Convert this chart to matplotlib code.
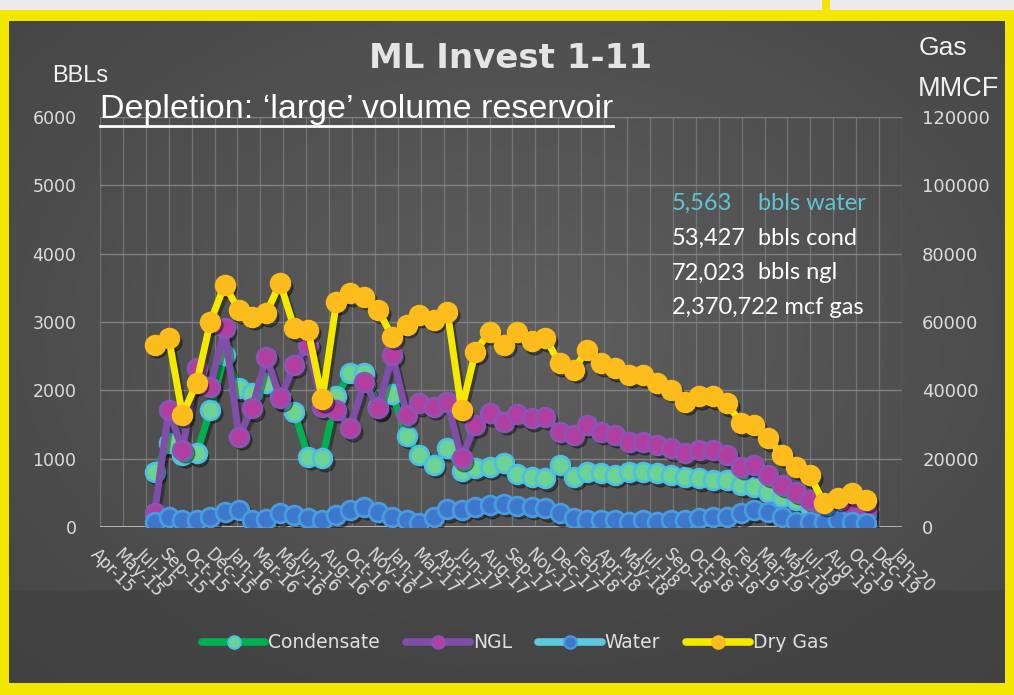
import matplotlib
matplotlib.use("Agg")
import matplotlib.pyplot as plt
import numpy as np
import pandas as pd
from matplotlib.lines import Line2D
from matplotlib.patches import Rectangle
from matplotlib.transforms import ScaledTranslation

# ---------------- data ----------------
months = pd.period_range("2015-07", "2019-10", freq="M").to_timestamp(how="end")

condensate = [810, 1225, 1060, 1079, 1713, 2518, 2031, 1957, 2104, 1900,
              1688, 1030, 1006, 1920, 2260, 2260, 1750, 1945, 1335, 1054,
              908, 1152, 820, 870, 883, 932, 775, 737, 713, 908,
              737, 810, 786, 761, 810, 810, 786, 761, 737, 713,
              688, 688, 615, 590, 517, 444, 400, 300, 200, 180,
              200, 180]
ngl = [200, 1713, 1127, 2324, 2054, 2909, 1322, 1738, 2493, 1884,
       2372, 2665, 1761, 1713, 1445, 2127, 1738, 2518, 1640, 1811,
       1761, 1835, 1006, 1493, 1665, 1542, 1650, 1591, 1615, 1396,
       1347, 1493, 1396, 1347, 1249, 1249, 1200, 1152, 1079, 1120,
       1130, 1054, 883, 908, 761, 615, 517, 395, 274, 249,
       274, 249]
water = [80, 150, 100, 100, 150, 220, 250, 100, 120, 200,
         180, 130, 100, 180, 250, 300, 220, 150, 100, 60,
         150, 260, 250, 297, 320, 340, 310, 300, 274, 200,
         127, 100, 100, 100, 78, 100, 78, 100, 100, 127,
         150, 150, 200, 249, 224, 150, 78, 78, 78, 100,
         78, 54]
dry_gas = [53300, 55300, 32800, 42200, 60100, 70900, 63500, 61600, 62600, 71400,
           58200, 57700, 37400, 66000, 68400, 67400, 63500, 55700, 59200, 62100,
           60600, 63000, 34300, 51300, 57200, 53300, 57200, 54300, 55300, 47900,
           46000, 51800, 47900, 46500, 44500, 44500, 42100, 40100, 36700, 38200,
           38200, 36200, 30400, 29900, 26000, 21100, 17700, 15200, 6900, 8400,
           9900, 7900]

tick_labels = ["Apr-15", "May-15", "Jul-15", "Sep-15", "Oct-15", "Dec-15", "Jan-16",
               "Mar-16", "May-16", "Jun-16", "Aug-16", "Oct-16", "Nov-16", "Jan-17",
               "Mar-17", "Apr-17", "Jun-17", "Aug-17", "Sep-17", "Nov-17", "Dec-17",
               "Feb-18", "Apr-18", "May-18", "Jul-18", "Sep-18", "Oct-18", "Dec-18",
               "Feb-19", "Mar-19", "May-19", "Jul-19", "Aug-19", "Oct-19", "Dec-19",
               "Jan-20"]
left_ticks = [0, 1000, 2000, 3000, 4000, 5000, 6000]
right_ticks = [0, 20000, 40000, 60000, 80000, 100000, 120000]

totals = [("5,563", "bbls water"), ("53,427", "bbls cond"), ("72,023", "bbls ngl"),
          ("2,370,722 mcf gas", "")]

# ---------------- figure ----------------
W, H = 1014, 695
fig = plt.figure(figsize=(W / 100, H / 100), dpi=100)
fig.patch.set_facecolor("#4a4a4a")

def fx(px):
    return px / W

def fy(py):
    return 1 - py / H

# background gradient
bg = fig.add_axes([0, 0, 1, 1], zorder=-10)
yy, xx = np.mgrid[0:H:1, 0:W:1]
d = np.sqrt(((xx - 520) / 700.0) ** 2 + ((yy - 330) / 500.0) ** 2)
shade = 0.37 - 0.10 * np.clip(d, 0, 1)
img = np.dstack([shade, shade, shade])
bg.imshow(img, extent=[0, W, H, 0], aspect="auto")
bg.add_patch(Rectangle((0, 590), W, 95, color="#3f3f3f", alpha=0.55, lw=0))
bg.add_patch(Rectangle((0, 0), W, 11, color="#ececec", lw=0))
bg.add_patch(Rectangle((0, 10), W, 11, color="#f3e600", lw=0))
bg.add_patch(Rectangle((0, 10), 9, H, color="#f3e600", lw=0))
bg.add_patch(Rectangle((1005, 10), 10, H, color="#f3e600", lw=0))
bg.add_patch(Rectangle((0, 683), W, 12, color="#f3e600", lw=0))
bg.add_patch(Rectangle((822, 0), 8, 11, color="#f3e600", lw=0))
bg.set_xlim(0, W)
bg.set_ylim(H, 0)
bg.axis("off")

# main axes
ax = fig.add_axes([fx(100), fy(527), fx(902) - fx(100), fy(117) - fy(527)])
ax.patch.set_visible(False)
ax2 = ax.twinx()
ax2.patch.set_visible(False)

start = pd.Timestamp("2015-04-04")
tick_pos = [start + pd.Timedelta(days=50 * i) for i in range(len(tick_labels))]
ax.set_xlim(start, start + pd.Timedelta(days=50 * (len(tick_labels) - 1)))
ax.set_ylim(0, 6000)
ax2.set_ylim(0, 120000)

for s in list(ax.spines.values()) + list(ax2.spines.values()):
    s.set_visible(False)

# grid
for v in left_ticks[1:]:
    ax.axhline(v, color="#8c8c8c", lw=1.0, alpha=0.8, zorder=0)
for t in tick_pos:
    ax.axvline(t, color="#8c8c8c", lw=0.9, alpha=0.6, zorder=0)
ax.axhline(0, color="#bdbdbd", lw=2.0, zorder=0.5)

ax.set_xticks(tick_pos)
ax.set_xticklabels(tick_labels, rotation=-45, ha="left", va="top",
                   rotation_mode="anchor")
ax.tick_params(axis="x", length=0, pad=13, labelsize=12, labelcolor="#dcdcdc")
ax.set_yticks(left_ticks)
ax.set_yticklabels([str(v) for v in left_ticks])
ax.tick_params(axis="y", length=0, pad=17, labelsize=12.5, labelcolor="#dcdcdc")
ax2.set_yticks(right_ticks)
ax2.set_yticklabels([str(v) for v in right_ticks])
ax2.tick_params(axis="y", length=0, pad=14.5, labelsize=13, labelcolor="#dcdcdc")

MS = 13.5
LW = 5

def shadow(a):
    return a.transData + ScaledTranslation(2 / 72, -2.5 / 72, fig.dpi_scale_trans)

series = [
    (ax, condensate, "#00b050", "#6dd392", "#4cc0e4", "Condensate"),
    (ax, ngl, "#7f4ea8", "#b23fa0", "#8a55b5", "NGL"),
    (ax, water, "#5fc8dc", "#3d78cc", "#4a9be0", "Water"),
    (ax2, dry_gas, "#f5e900", "#fbbc1c", "#fbbc1c", "Dry Gas"),
]
z = 2
handles = []
for a, vals, lc, mfc, mec, name in series:
    a.plot(months, vals, color="black", lw=LW, marker="o", ms=MS, mfc="black",
           mec="black", alpha=0.35, transform=shadow(a), zorder=z)
    a.plot(months, vals, color=lc, lw=LW, marker="o", ms=MS, mfc=mfc, mec=mec,
           mew=2.0, zorder=z + 0.5)
    z += 1
    handles.append(Line2D([], [], color=lc, lw=5.5, marker="o", ms=9,
                          mfc=mfc, mec=mec, mew=1.5, solid_capstyle="round",
                          label=name))

leg = fig.legend(handles=handles, loc="center", bbox_to_anchor=(fx(515), fy(643)),
                 ncol=4, frameon=False, fontsize=13.5, handlelength=3.4,
                 handletextpad=0.15, columnspacing=1.4, numpoints=1)
for t in leg.get_texts():
    t.set_color("#e0e0e0")

# titles and labels
fig.text(fx(511), fy(58), "ML Invest 1-11", ha="center", va="center",
         fontsize=24.5, fontweight="bold", color="#e4e4e4",
         family=["DejaVu Sans"])
fig.text(fx(52), fy(76), "BBLs", ha="left", va="center", fontsize=17,
         color="#f2f2f2", family=["Liberation Sans", "DejaVu Sans"])
fig.text(fx(919), fy(48), "Gas", ha="left", va="center", fontsize=19,
         color="#f2f2f2", family=["Liberation Sans", "DejaVu Sans"])
fig.text(fx(918), fy(89), "MMCF", ha="left", va="center", fontsize=19.5,
         color="#f2f2f2", family=["Liberation Sans", "DejaVu Sans"])
sub = fig.text(fx(100), fy(118), "Depletion: \u2018large\u2019 volume reservoir",
               ha="left", va="baseline", fontsize=24.5, color="#ffffff",
               family=["Liberation Sans", "DejaVu Sans"])
fig.canvas.draw()
bb = sub.get_window_extent(renderer=fig.canvas.get_renderer())
fig.add_artist(Line2D([bb.x0 / W, bb.x1 / W], [fy(126), fy(126)],
                      color="white", lw=2.0, transform=fig.transFigure))

ys = [203, 238, 273, 307]
for i, (num, unit) in enumerate(totals):
    col = "#5cc6d6" if i == 0 else "#ffffff"
    fig.text(fx(672), fy(ys[i]), num, ha="left", va="center", fontsize=17,
             color=col, family=["Lato", "DejaVu Sans"])
    if unit:
        fig.text(fx(758), fy(ys[i]), unit, ha="left", va="center", fontsize=17,
                 color=col, family=["Lato", "DejaVu Sans"])

fig.savefig("out.png", dpi=100, facecolor=fig.get_facecolor())
